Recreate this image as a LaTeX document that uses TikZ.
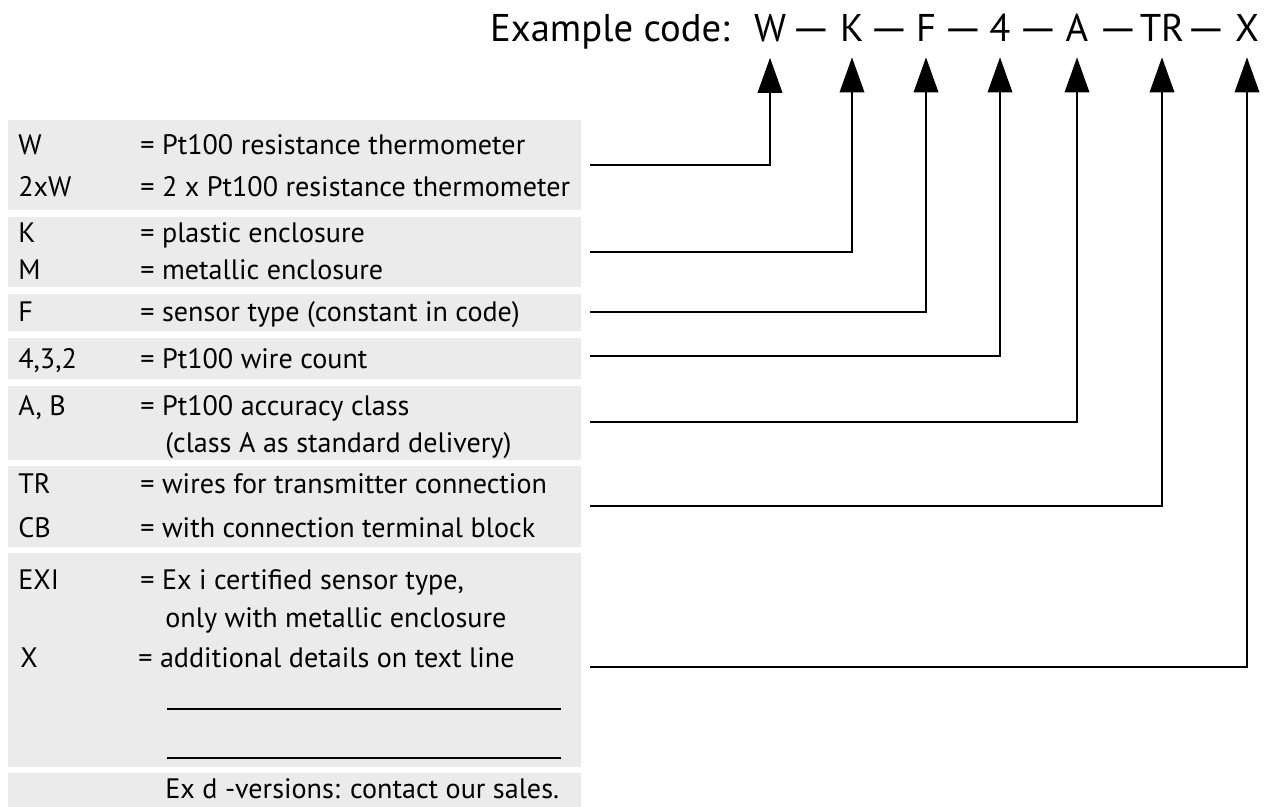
\documentclass[tikz,border=0pt]{standalone}
\usepackage{fontspec}
\setmainfont{PT Sans}
\usetikzlibrary{arrows.meta}

\definecolor{boxgray}{RGB}{235,235,235}

\tikzset{
  keytext/.style={anchor=base west, inner sep=0pt, font=\fontsize{16}{19}\selectfont},
  codetext/.style={anchor=base, inner sep=0pt, font=\fontsize{22}{26}\selectfont},
  lead/.style={line width=1pt, -{Triangle[width=14pt,length=20pt]}},
}
\newcommand{\codedash}{\scalebox{1.3}[1]{—}}

\begin{document}
\begin{tikzpicture}[x=0.02cm, y=-0.02cm]

    % --- Frame (pixel grid of the sheet) ---
    \useasboundingbox (0,0) rectangle (1270,807);

    % --- Grey bands of the legend ---
    \fill[boxgray] (8,120) rectangle (581,210);
    \fill[boxgray] (8,217) rectangle (581,287);
    \fill[boxgray] (8,294) rectangle (581,331);
    \fill[boxgray] (8,338) rectangle (581,379);
    \fill[boxgray] (8,386) rectangle (581,460);
    \fill[boxgray] (8,466) rectangle (581,547);
    \fill[boxgray] (8,553) rectangle (581,767);
    \fill[boxgray] (8,773) rectangle (581,807);

    % --- Code line at the top ---
    \node[codetext, anchor=base east] (title) at (730,42) {Example code:};
    \node[codetext] (cW)  at (770,42)  {W};
    \node[codetext] (cK)  at (852,42)  {K};
    \node[codetext] (cF)  at (926,42)  {F};
    \node[codetext] (c4)  at (1000,42) {4};
    \node[codetext] (cA)  at (1077,42) {A};
    \node[codetext] (cTR) at (1162,42) {TR};
    \node[codetext] (cX)  at (1247,42) {X};
    % dashes in between
    \node[codetext] (d1) at (811,42)  {\codedash};
    \node[codetext] (d2) at (889,42)  {\codedash};
    \node[codetext] (d3) at (963,42)  {\codedash};
    \node[codetext] (d4) at (1038,42) {\codedash};
    \node[codetext] (d5) at (1118,42) {\codedash};
    \node[codetext] (d6) at (1206,42) {\codedash};

    % --- Legend texts ---
    \node[keytext] (kW)   at (18,155) {W};
    \node[keytext] (tW)   at (140,155) {= Pt100 resistance thermometer};
    \node[keytext] (kWW)  at (18,197) {2xW};
    \node[keytext] (tWW)  at (140,197) {= 2 x Pt100 resistance thermometer};
    \node[keytext] (kK)   at (18,243) {K};
    \node[keytext] (tK)   at (140,243) {= plastic enclosure};
    \node[keytext] (kM)   at (18,279) {M};
    \node[keytext] (tM)   at (140,279) {= metallic enclosure};
    \node[keytext] (kF)   at (18,321) {F};
    \node[keytext] (tF)   at (140,321) {= sensor type (constant in code)};
    \node[keytext] (k4)   at (18,368) {4,3,2};
    \node[keytext] (t4)   at (140,368) {= Pt100 wire count};
    \node[keytext] (kA)   at (18,415) {A, B};
    \node[keytext] (tA)   at (140,415) {= Pt100 accuracy class};
    \node[keytext] (tA2)  at (165,452) {(class A as standard delivery)};
    \node[keytext] (kTR)  at (18,493) {TR};
    \node[keytext] (tTR)  at (140,493) {= wires for transmitter connection};
    \node[keytext] (kCB)  at (18,537) {CB};
    \node[keytext] (tCB)  at (140,537) {= with connection terminal block};
    \node[keytext] (kEXI) at (18,589) {EXI};
    \node[keytext] (tEXI) at (140,589) {= Ex i certified sensor type,};
    \node[keytext] (tEXI2) at (165,627) {only with metallic enclosure};
    \node[keytext] (kX)   at (20,667) {X};
    \node[keytext] (tX)   at (138,667) {= additional details on text line};
    \node[keytext] (tExd) at (165,798) {Ex d -versions: contact our sales.};

    % blank lines for the extra text
    \draw[line width=1pt] (167,709) -- (561,709);
    \draw[line width=1pt] (167,758) -- (561,758);

    % --- Leader lines from the legend up to the code ---
    \coordinate (sW)  at (590,165);
    \coordinate (sK)  at (590,252);
    \coordinate (sF)  at (590,312);
    \coordinate (s4)  at (590,356);
    \coordinate (sA)  at (590,422);
    \coordinate (sTR) at (590,506);
    \coordinate (sX)  at (590,667);

    \draw[lead] (sW)  -| ([yshift=-0.3cm]cW.south);
    \draw[lead] (sK)  -| ([yshift=-0.3cm]cK.south);
    \draw[lead] (sF)  -| ([yshift=-0.3cm]cF.south);
    \draw[lead] (s4)  -| ([yshift=-0.3cm]c4.south);
    \draw[lead] (sA)  -| ([yshift=-0.3cm]cA.south);
    \draw[lead] (sTR) -| ([yshift=-0.3cm]cTR.south);
    \draw[lead] (sX)  -| ([yshift=-0.3cm]cX.south);

\end{tikzpicture}
\end{document}
